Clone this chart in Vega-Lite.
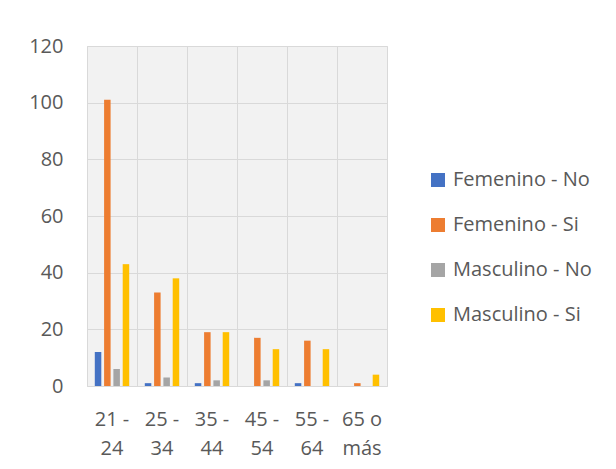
{
  "$schema": "https://vega.github.io/schema/vega-lite/v6.json",
  "width": 300,
  "height": 340,
  "autosize": {"type": "none"},
  "padding": {"left": 87, "top": 46, "right": 229, "bottom": 83},
  "background": "white",
  "config": {
    "font": "Open Sans",
    "view": {"stroke": "#d9d9d9", "fill": "#f2f2f2", "strokeWidth": 1}
  },
  "data": {
    "values": [
      {"edad": "21 - 24", "serie": "Femenino - No", "valor": 12},
      {"edad": "21 - 24", "serie": "Femenino - Si", "valor": 101},
      {"edad": "21 - 24", "serie": "Masculino  - No", "valor": 6},
      {"edad": "21 - 24", "serie": "Masculino  - Si", "valor": 43},
      {"edad": "25 - 34", "serie": "Femenino - No", "valor": 1},
      {"edad": "25 - 34", "serie": "Femenino - Si", "valor": 33},
      {"edad": "25 - 34", "serie": "Masculino  - No", "valor": 3},
      {"edad": "25 - 34", "serie": "Masculino  - Si", "valor": 38},
      {"edad": "35 - 44", "serie": "Femenino - No", "valor": 1},
      {"edad": "35 - 44", "serie": "Femenino - Si", "valor": 19},
      {"edad": "35 - 44", "serie": "Masculino  - No", "valor": 2},
      {"edad": "35 - 44", "serie": "Masculino  - Si", "valor": 19},
      {"edad": "45 - 54", "serie": "Femenino - No", "valor": 0},
      {"edad": "45 - 54", "serie": "Femenino - Si", "valor": 17},
      {"edad": "45 - 54", "serie": "Masculino  - No", "valor": 2},
      {"edad": "45 - 54", "serie": "Masculino  - Si", "valor": 13},
      {"edad": "55 - 64", "serie": "Femenino - No", "valor": 1},
      {"edad": "55 - 64", "serie": "Femenino - Si", "valor": 16},
      {"edad": "55 - 64", "serie": "Masculino  - No", "valor": 0},
      {"edad": "55 - 64", "serie": "Masculino  - Si", "valor": 13},
      {"edad": "65 o más", "serie": "Femenino - No", "valor": 0},
      {"edad": "65 o más", "serie": "Femenino - Si", "valor": 1},
      {"edad": "65 o más", "serie": "Masculino  - No", "valor": 0},
      {"edad": "65 o más", "serie": "Masculino  - Si", "valor": 4}
    ]
  },
  "mark": {"type": "bar"},
  "encoding": {
    "x": {
      "field": "edad",
      "type": "nominal",
      "sort": ["21 - 24", "25 - 34", "35 - 44", "45 - 54", "55 - 64", "65 o más"],
      "scale": {"paddingInner": 0, "paddingOuter": 0},
      "axis": {
        "title": null,
        "labelAngle": 0,
        "bandPosition": 0,
        "grid": true,
        "gridColor": "#d9d9d9",
        "ticks": false,
        "domain": false,
        "labelExpr": "datum.label == '65 o más' ? ['65 o', 'más'] : [split(datum.label, ' - ')[0] + ' -', split(datum.label, ' - ')[1]]",
        "labelFontSize": 20,
        "labelFont": "Open Sans",
        "labelColor": "#595959",
        "labelPadding": 23,
        "labelLineHeight": 29,
        "labelBaseline": "top"
      }
    },
    "xOffset": {
      "field": "serie",
      "sort": ["Femenino - No", "Femenino - Si", "Masculino  - No", "Masculino  - Si"],
      "scale": {"paddingInner": 0.3, "paddingOuter": 0.838}
    },
    "y": {
      "field": "valor",
      "type": "quantitative",
      "scale": {"domain": [0, 120], "nice": false},
      "axis": {
        "title": null,
        "values": [0, 20, 40, 60, 80, 100, 120],
        "grid": true,
        "gridColor": "#d9d9d9",
        "ticks": false,
        "domain": false,
        "labelFontSize": 20,
        "labelFont": "Open Sans",
        "labelColor": "#595959",
        "labelPadding": 24
      }
    },
    "color": {
      "field": "serie",
      "type": "nominal",
      "scale": {
        "domain": ["Femenino - No", "Femenino - Si", "Masculino  - No", "Masculino  - Si"],
        "range": ["#4472C4", "#ED7D31", "#A5A5A5", "#FFC000"]
      },
      "legend": {
        "title": null,
        "orient": "none",
        "legendX": 341,
        "legendY": 124,
        "padding": 0,
        "symbolType": "square",
        "symbolSize": 196,
        "symbolStrokeWidth": 0,
        "labelFontSize": 20,
        "labelFont": "Open Sans",
        "labelColor": "#595959",
        "labelOffset": 5,
        "rowPadding": 25
      }
    }
  }
}
